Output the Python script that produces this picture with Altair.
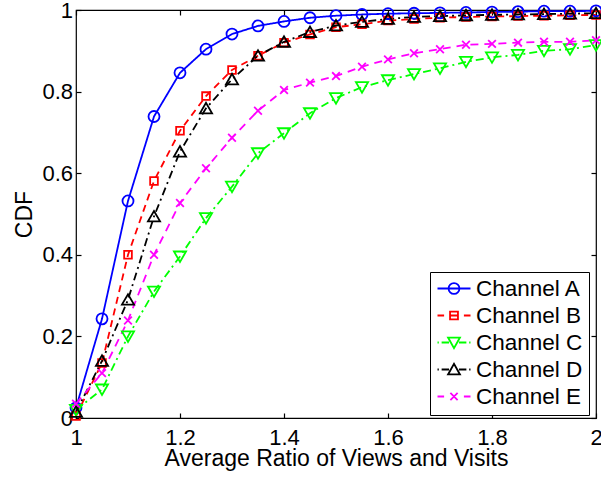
import altair as alt
import pandas as pd

# ---------------- data ----------------
x_vals = [1.00, 1.05, 1.10, 1.15, 1.20, 1.25, 1.30, 1.35, 1.40, 1.45, 1.50,
          1.55, 1.60, 1.65, 1.70, 1.75, 1.80, 1.85, 1.90, 1.95, 2.00]

series_names = ["Channel A", "Channel B", "Channel C", "Channel D", "Channel E"]

cdf_a = [0.025, 0.243, 0.532, 0.739, 0.846, 0.904, 0.941, 0.961, 0.972, 0.981, 0.986,
         0.989, 0.991, 0.992, 0.993, 0.994, 0.995, 0.996, 0.997, 0.997, 0.998]
cdf_b = [0.005, 0.135, 0.400, 0.581, 0.704, 0.789, 0.853, 0.888, 0.920, 0.940, 0.958,
         0.965, 0.974, 0.978, 0.981, 0.983, 0.984, 0.985, 0.986, 0.987, 0.988]
cdf_c = [0.020, 0.070, 0.200, 0.310, 0.396, 0.490, 0.567, 0.649, 0.698, 0.747, 0.784,
         0.811, 0.828, 0.843, 0.857, 0.873, 0.884, 0.890, 0.900, 0.904, 0.914]
cdf_d = [0.015, 0.140, 0.290, 0.494, 0.653, 0.759, 0.830, 0.888, 0.922, 0.946, 0.962,
         0.971, 0.978, 0.983, 0.985, 0.987, 0.988, 0.989, 0.990, 0.991, 0.992]
cdf_e = [0.035, 0.110, 0.239, 0.400, 0.527, 0.612, 0.687, 0.753, 0.804, 0.822, 0.838,
         0.861, 0.879, 0.894, 0.904, 0.915, 0.917, 0.920, 0.922, 0.922, 0.926]

x_ticks = [1, 1.2, 1.4, 1.6, 1.8, 2]
y_ticks = [0, 0.2, 0.4, 0.6, 0.8, 1]

# ---------------- styles ----------------
colors = ["#0000ff", "#ff0000", "#00ff00", "#000000", "#ff00ff"]
dashes = [[1, 0], [7, 5], [8, 4, 2, 4], [8, 4, 2, 4], [8, 6]]
marker_shapes = [
    "circle",
    "M-0.7,-0.7L0.7,-0.7L0.7,0.7L-0.7,0.7Z",
    "M-1.1,-0.9L1.1,-0.9L0,1.0Z",
    "M-1.1,0.9L1.1,0.9L0,-1.0Z",
    "M-0.7,-0.7L0.7,0.7M-0.7,0.7L0.7,-0.7",
]
legend_paths = [
    "M-1,0L1,0M0.33,0A0.33,0.33 0 1,1 -0.33,0A0.33,0.33 0 1,1 0.33,0",
    "M-1,0L-0.6,0M0.6,0L1,0M-0.24,0L0.24,0M-0.24,-0.24L0.24,-0.24L0.24,0.24L-0.24,0.24Z",
    "M-1,0L-0.92,0M-0.75,0L-0.3,0M0.3,0L0.75,0M0.92,0L1,0M-0.36,-0.3L0.36,-0.3L0,0.34Z",
    "M-1,0L-0.92,0M-0.75,0L-0.3,0M0.3,0L0.75,0M0.92,0L1,0M-0.36,0.3L0.36,0.3L0,-0.34Z",
    "M-1,0L-0.6,0M0.6,0L1,0M-0.22,-0.22L0.22,0.22M-0.22,0.22L0.22,-0.22",
]
FONT = "Liberation Sans"

rows = []
for name, vals in zip(series_names, [cdf_a, cdf_b, cdf_c, cdf_d, cdf_e]):
    for xv, yv in zip(x_vals, vals):
        rows.append({"ratio": xv, "cdf": yv, "series": name})
df = pd.DataFrame(rows)

x_scale = alt.Scale(domain=[1, 2], nice=False, zero=False)
y_scale = alt.Scale(domain=[0, 1], nice=False, zero=False)
color_scale = alt.Scale(domain=series_names, range=colors)

# inward ticks: axes pulled 5px into the plot, ticks drawn outward to the frame
bottom_axis = alt.Axis(orient="bottom", values=x_ticks, format=".1~f",
                       title="Average Ratio of Views and Visits",
                       offset=-5, domain=False, tickSize=5, labelPadding=9, labelFlush=False,
                       grid=False, titleY=52.4, titleBaseline="alphabetic")
left_axis = alt.Axis(orient="left", values=y_ticks, format=".1~f", title="CDF",
                     offset=-5, domain=False, tickSize=5, labelPadding=3.5, labelFlush=False,
                     grid=False, titleX=-49.5, titleY=204, titleAngle=270, titleBaseline="alphabetic")
top_axis = alt.Axis(orient="top", values=x_ticks, labels=False, title=None,
                    offset=-5, domain=False, tickSize=5, grid=False)
right_axis = alt.Axis(orient="right", values=y_ticks, labels=False, title=None,
                      offset=-5, domain=False, tickSize=5, grid=False)

legend = alt.Legend(orient="none", legendX=354, legendY=262, title=None,
                    padding=6.5, clipHeight=20, rowPadding=4,
                    symbolSize=1089, symbolStrokeWidth=1.8, labelOffset=4.5,
                    labelFont=FONT, labelFontSize=22.5, labelColor="black",
                    strokeColor="black", fillColor="white")

lines = alt.Chart(df).mark_line(strokeWidth=1.8).encode(
    x=alt.X("ratio:Q", scale=x_scale, axis=bottom_axis),
    y=alt.Y("cdf:Q", scale=y_scale, axis=left_axis),
    color=alt.Color("series:N", scale=color_scale, legend=None),
    strokeDash=alt.StrokeDash("series:N", scale=alt.Scale(domain=series_names, range=dashes), legend=None),
)

points = alt.Chart(df).mark_point(filled=False, strokeWidth=1.8, opacity=1, size=121).encode(
    x=alt.X("ratio:Q", scale=x_scale, axis=top_axis),
    y=alt.Y("cdf:Q", scale=y_scale, axis=right_axis),
    color=alt.Color("series:N", scale=color_scale, legend=None),
    shape=alt.Shape("series:N", scale=alt.Scale(domain=series_names, range=marker_shapes), legend=None),
)

# legend carrier: draws no data marks, only supplies line+marker legend symbols
legend_layer = alt.Chart(df).transform_filter("false").mark_point(
    filled=False, strokeWidth=1.8, opacity=1
).encode(
    color=alt.Color("series:N", scale=color_scale, legend=legend),
    shape=alt.Shape("series:N", scale=alt.Scale(domain=series_names, range=legend_paths), legend=legend),
)

chart = alt.layer(lines, points, legend_layer).resolve_scale(
    shape="independent"
).resolve_axis(
    x="independent", y="independent"
).resolve_legend(
    color="independent", shape="independent"
).properties(
    width=520, height=408,
    autosize=alt.AutoSizeParams(type="none"),
    padding={"left": 76, "top": 10, "right": 5, "bottom": 60},
).configure_axis(
    labelFont=FONT, labelFontSize=22, labelColor="black",
    titleFont=FONT, titleFontSize=23, titleFontWeight="normal", titleColor="black",
    tickColor="black", tickWidth=1.2,
).configure_view(stroke="black", strokeWidth=1.2)

chart.save("out.html", embed_options={"renderer": "svg", "actions": False})
